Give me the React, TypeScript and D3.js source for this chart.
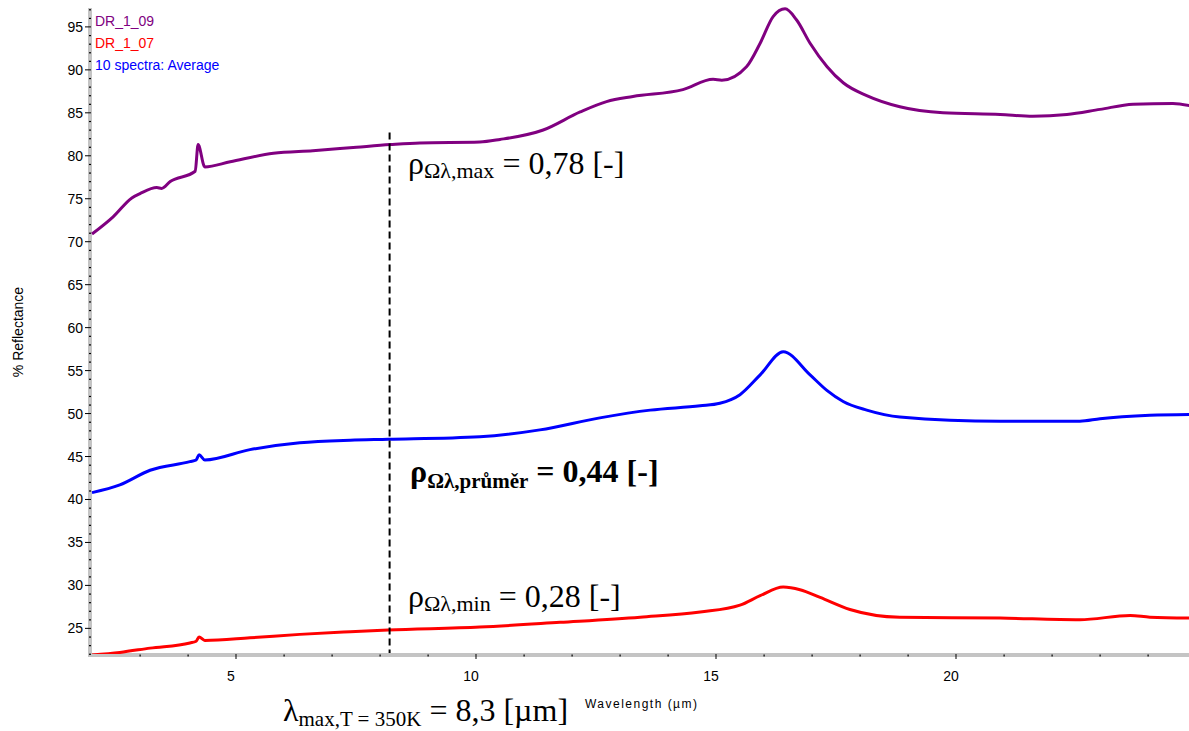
import React from 'react';
import * as d3 from 'd3';

// DR_1_09 (purple)
const purpleWl = [2.0, 2.44, 2.83, 3.0, 3.35, 3.45, 3.63, 4.15, 4.21, 4.35, 4.88, 5.78, 6.6, 7.51, 8.21, 8.83, 10.08, 10.5, 11.4, 12.17, 12.72, 13.27, 14.31, 14.94, 15.12, 15.64, 15.92, 16.19, 16.44, 16.68, 16.96, 17.31, 17.65, 18.14, 18.83, 19.73, 20.92, 21.6, 22.31, 23.0, 23.69, 24.52, 24.9];
const purpleVal = [70.9, 72.9, 75.1, 75.6, 76.3, 76.2, 77.0, 78.2, 81.3, 78.7, 79.3, 80.3, 80.6, 81.0, 81.3, 81.5, 81.6, 81.9, 83.0, 85.1, 86.3, 86.9, 87.7, 88.9, 88.8, 90.4, 93.1, 96.2, 97.1, 95.8, 93.1, 90.4, 88.5, 87.0, 85.7, 85.0, 84.8, 84.6, 84.8, 85.4, 86.0, 86.1, 85.8];

// 10 spectra: Average (blue)
const blueWl = [2.0, 2.58, 3.21, 4.04, 4.17, 4.23, 4.35, 5.29, 6.33, 7.38, 8.17, 10.08, 11.33, 12.58, 13.63, 14.67, 15.08, 15.5, 15.92, 16.4, 16.96, 17.31, 17.65, 18.14, 18.83, 20.92, 22.58, 23.0, 24.04, 24.9];
const blueVal = [40.8, 41.7, 43.4, 44.4, 44.6, 45.2, 44.6, 45.8, 46.6, 46.9, 47.0, 47.3, 48.1, 49.5, 50.4, 50.9, 51.2, 52.2, 54.5, 57.2, 54.5, 52.7, 51.4, 50.4, 49.6, 49.1, 49.1, 49.4, 49.8, 49.9];

// DR_1_07 (red)
const redWl = [2.0, 2.58, 3.21, 4.04, 4.17, 4.23, 4.35, 5.29, 6.33, 7.38, 8.17, 10.08, 11.75, 13.42, 14.67, 15.5, 15.92, 16.4, 16.75, 17.17, 17.79, 18.83, 20.92, 22.58, 23.63, 24.04, 24.9];
const redVal = [21.9, 22.2, 22.7, 23.3, 23.5, 24.0, 23.6, 23.9, 24.3, 24.6, 24.8, 25.15, 25.7, 26.3, 26.9, 27.7, 28.8, 29.8, 29.5, 28.6, 27.2, 26.3, 26.2, 26.0, 26.5, 26.3, 26.2];

const xMajor = [5, 10, 15, 20];
const yMajor = [25, 30, 35, 40, 45, 50, 55, 60, 65, 70, 75, 80, 85, 90, 95];
const legend = [
  { label: 'DR_1_09', color: '#800080' },
  { label: 'DR_1_07', color: '#ff0000' },
  { label: '10 spectra: Average', color: '#0000ff' },
];
const lambdaMax = 8.2; // where the dashed line sits
const dashTop = 82.7;

const left = 91, right = 1189, top = 8, bottom = 655;

export default function App() {
  const x = d3.scaleLinear().domain([2, 25]).range([92, 1196]);
  const y = d3.scaleLinear().domain([21.9, 97.2]).range([bottom, top]);
  const line = d3.line<[number, number]>()
    .x(d => x(d[0]))
    .y(d => y(d[1]))
    .curve(d3.curveMonotoneX);

  const series = [
    { wl: purpleWl, v: purpleVal, color: '#800080' },
    { wl: blueWl, v: blueVal, color: '#0000ff' },
    { wl: redWl, v: redVal, color: '#ff0000' },
  ];

  const xMinor = d3.range(3, 25).filter(t => !xMajor.includes(t));
  const yMinor = d3.range(22, 98).filter(t => !yMajor.includes(t));
  const sans = "'Liberation Sans', Arial, sans-serif";
  const serif = "'Liberation Serif', 'Times New Roman', serif";

  return (
    <svg width={1189} height={731} style={{ position: 'absolute', left: 0, top: 0, background: '#fff' }}>
      <defs>
        <clipPath id="plot">
          <rect x={left} y={0} width={right - left} height={bottom - 1} />
        </clipPath>
      </defs>

      {/* axes */}
      <rect x={88} y={top} width={4} height={bottom - top + 2} fill="#c4c4c4" />
      <rect x={88} y={bottom - 2} width={right - 88} height={4} fill="#c4c4c4" />
      {yMajor.map(t => (
        <g key={'ym' + t}>
          <line x1={85} x2={91} y1={y(t)} y2={y(t)} stroke="#000" strokeWidth={1} />
          <text x={83} y={y(t) + 5} textAnchor="end" fontFamily={sans} fontSize={14} fill="#000">{t}</text>
        </g>
      ))}
      {yMinor.map(t => (
        <rect key={'yn' + t} x={89} y={y(t) - 0.5} width={2} height={1.2} fill="#000" />
      ))}
      {xMajor.map(t => (
        <g key={'xm' + t}>
          <line x1={x(t)} x2={x(t)} y1={bottom - 1} y2={bottom + 4} stroke="#000" strokeWidth={1} />
          <text x={x(t) - 5} y={681} textAnchor="middle" fontFamily={sans} fontSize={14} fill="#000">{t}</text>
        </g>
      ))}
      {xMinor.map(t => (
        <rect key={'xn' + t} x={x(t) - 0.5} y={bottom - 0.5} width={1.2} height={2} fill="#000" />
      ))}

      <text transform="translate(23,332) rotate(-90)" textAnchor="middle" fontFamily={sans} fontSize={14} fill="#000">% Reflectance</text>
      <text x={585} y={708} fontFamily={sans} fontSize={12} fill="#000" textLength={112}>Wavelength (µm)</text>

      {/* curves */}
      <g clipPath="url(#plot)">
        {series.map(s => (
          <path key={s.color}
            d={line(s.wl.map((w, i) => [w, s.v[i]] as [number, number])) || ''}
            fill="none" stroke={s.color} strokeWidth={3} strokeLinejoin="round" />
        ))}
      </g>

      {/* dashed lambda line */}
      <line x1={x(lambdaMax)} x2={x(lambdaMax)} y1={y(dashTop)} y2={bottom - 2}
        stroke="#000" strokeWidth={2} strokeDasharray="7,4" />

      {/* legend */}
      {legend.map((l, i) => (
        <text key={l.label} x={95} y={26 + i * 22} fontFamily={sans} fontSize={14} fill={l.color}>{l.label}</text>
      ))}

      {/* annotations */}
      <text x={408} y={174} fontFamily={serif} fontSize={32} fill="#000">
        ρ<tspan fontSize={22} dy={4}>Ωλ,max</tspan><tspan dy={-4}> = 0,78 [-]</tspan>
      </text>
      <text x={410} y={482} fontFamily={serif} fontSize={32} fontWeight="bold" fill="#000">
        ρ<tspan fontSize={21} dy={6}>Ωλ,průměr</tspan><tspan dy={-6}> = 0,44 [-]</tspan>
      </text>
      <text x={408} y={607} fontFamily={serif} fontSize={32} fill="#000">
        ρ<tspan fontSize={22} dy={4}>Ωλ,min</tspan><tspan dy={-4}> = 0,28 [-]</tspan>
      </text>
      <text x={283} y={721} fontFamily={serif} fontSize={32} fill="#000">
        λ<tspan fontSize={21} dy={5}>max,T = 350K</tspan><tspan dy={-5}> = 8,3 [µm]</tspan>
      </text>
    </svg>
  );
}
